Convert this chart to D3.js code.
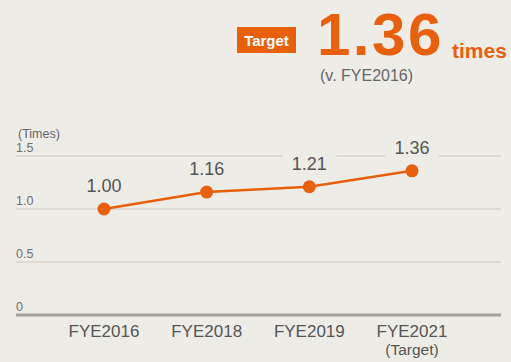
<!DOCTYPE html>
<html>
<head>
<meta charset="utf-8">
<script src="https://cdn.jsdelivr.net/npm/d3@7"></script>
<style>
  html, body { margin: 0; padding: 0; background: #eeece7; }
  svg { display: block; font-family: "Liberation Sans", Arial, sans-serif; }
</style>
</head>
<body>
<svg id="chart" width="511" height="362"></svg>
<script>
// Productivity ratio (times, vs. FYE2016)
const categories = ["FYE2016", "FYE2018", "FYE2019", "FYE2021"];
const subLabels = ["", "", "", "(Target)"];
const values = [1.00, 1.16, 1.21, 1.36];
const yTicks = [0, 0.5, 1.0, 1.5];
const yTickLabels = ["0", "0.5", "1.0", "1.5"];
const headline = { badge: "Target", value: "1.36", unit: "times", note: "(v. FYE2016)" };

const orange = "#e8600c";
const bg = "#eeece7";
const svg = d3.select("#chart");

const x = d3.scalePoint().domain(categories).range([104, 412]);
const y = d3.scaleLinear().domain([0, 1.5]).range([315, 156]);
const left = 16, right = 501;

// Header: badge, big figure, unit and note
svg.append("rect").attr("x", 237).attr("y", 27).attr("width", 59).attr("height", 26).attr("fill", orange);
svg.append("text").attr("x", 266.5).attr("y", 46).attr("text-anchor", "middle")
  .attr("fill", "#fff").attr("font-weight", "bold").attr("font-size", 15).text(headline.badge);
svg.append("text").attr("x", 317).attr("y", 55).attr("fill", orange)
  .attr("font-weight", "bold").attr("font-size", 60).attr("letter-spacing", 2.5).text(headline.value);
svg.append("text").attr("x", 452).attr("y", 58).attr("fill", orange)
  .attr("font-weight", "bold").attr("font-size", 21).text(headline.unit);
svg.append("text").attr("x", 320).attr("y", 81).attr("fill", "#666")
  .attr("font-size", 16).text(headline.note);

// Unit label
svg.append("text").attr("x", 18).attr("y", 138).attr("fill", "#666")
  .attr("font-size", 12.5).text("(Times)");

// Gridlines and tick labels
const grid = svg.append("g");
yTicks.forEach((t, i) => {
  grid.append("line")
    .attr("x1", left).attr("x2", right)
    .attr("y1", y(t)).attr("y2", y(t))
    .attr("stroke", t === 0 ? "#a8a098" : "#cdc4bc")
    .attr("stroke-width", t === 0 ? 3 : 1);
  grid.append("text").attr("x", left).attr("y", y(t) - 4.5)
    .attr("fill", "#6e6e6e").attr("font-size", 12.5).text(yTickLabels[i]);
});

// Category labels
categories.forEach((c, i) => {
  svg.append("text").attr("x", x(c)).attr("y", 337).attr("text-anchor", "middle")
    .attr("fill", "#555").attr("font-size", 17).text(c);
  if (subLabels[i]) {
    svg.append("text").attr("x", x(c)).attr("y", 355).attr("text-anchor", "middle")
      .attr("fill", "#555").attr("font-size", 15.5).text(subLabels[i]);
  }
});

// Line and markers
const pts = categories.map((c, i) => ({ c, v: values[i] }));
svg.append("path").datum(pts)
  .attr("fill", "none").attr("stroke", orange).attr("stroke-width", 2.5)
  .attr("d", d3.line().x(d => x(d.c)).y(d => y(d.v)));
svg.selectAll("circle.pt").data(pts).enter().append("circle")
  .attr("class", "pt").attr("cx", d => x(d.c)).attr("cy", d => y(d.v))
  .attr("r", 6.5).attr("fill", orange);

// Value labels with a background knock-out over gridlines
const lbl = svg.selectAll("g.lbl").data(pts).enter().append("g").attr("class", "lbl");
lbl.append("rect")
  .attr("x", d => x(d.c) - 27).attr("y", d => y(d.v) - 33)
  .attr("width", 54).attr("height", 20).attr("fill", bg);
lbl.append("text")
  .attr("x", d => x(d.c)).attr("y", d => y(d.v) - 17)
  .attr("text-anchor", "middle").attr("fill", "#555").attr("font-size", 18)
  .text(d => d.v.toFixed(2));
</script>
</body>
</html>
